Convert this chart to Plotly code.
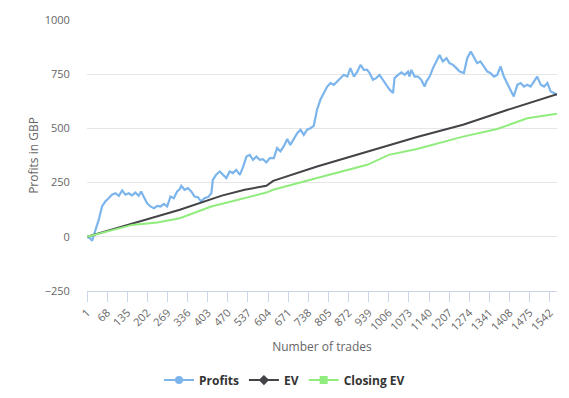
import plotly.graph_objects as go

profit_trades = [1, 10, 18, 29, 40, 51, 62, 73, 84, 96, 107, 118, 129, 140, 151, 162, 173, 181, 190,
                 201, 212, 224, 235, 246, 257, 268, 279, 290, 301, 310, 315, 326, 337, 348, 359, 370,
                 381, 392, 404, 415, 420, 431, 443, 454, 465, 476, 487, 498, 510, 521, 532, 543, 554,
                 565, 576, 587, 598, 610, 623, 634, 645, 656, 668, 678, 690, 701, 712, 723, 734, 745,
                 756, 762, 767, 778, 790, 801, 812, 823, 834, 845, 856, 868, 878, 890, 901, 912, 923,
                 934, 942, 953, 964, 975, 987, 998, 1009, 1020, 1025, 1037, 1048, 1059, 1070, 1075,
                 1081, 1092, 1103, 1114, 1125, 1131, 1142, 1153, 1164, 1175, 1186, 1198, 1208, 1220,
                 1231, 1242, 1256, 1267, 1279, 1289, 1300, 1311, 1322, 1334, 1345, 1356, 1367, 1378,
                 1389, 1400, 1411, 1422, 1434, 1445, 1456, 1467, 1478, 1489, 1500, 1512, 1523, 1534,
                 1545, 1556, 1566]
profit_values = [0, -5, -18, 25, 78, 140, 163, 178, 194, 201, 189, 214, 194, 201, 191, 204, 189, 209, 186,
                 155, 140, 132, 143, 140, 152, 140, 186, 178, 209, 220, 235, 217, 225, 209, 186, 183,
                 163, 178, 183, 201, 263, 286, 301, 286, 271, 301, 294, 309, 286, 324, 370, 378, 355,
                 370, 355, 358, 343, 363, 363, 409, 394, 417, 451, 424, 451, 478, 494, 470, 494, 501,
                 512, 555, 586, 632, 663, 693, 709, 701, 716, 732, 747, 739, 778, 739, 762, 793, 770,
                 770, 755, 724, 732, 747, 724, 701, 678, 663, 732, 747, 758, 747, 762, 739,
                 770, 739, 739, 724, 693, 716, 739, 778, 809, 839, 809, 824, 801, 793,
                 778, 762, 755, 824, 855, 832, 801, 809, 786, 762, 755, 739, 747, 786,
                 739, 709, 678, 647, 701, 709, 693, 701, 693, 716, 739, 701, 693, 709,
                 670, 663, 655]

ev_trades = [1, 150, 310, 450, 526, 598, 621, 767, 934, 1100, 1253, 1400, 1566]
ev_values = [0, 62, 125, 190, 217, 235, 258, 324, 394, 460, 517, 585, 658]

cev_trades = [1, 151, 235, 310, 415, 598, 621, 712, 767, 934, 1006, 1100, 1253, 1367, 1467, 1566]
cev_values = [0, 55, 66, 86, 140, 204, 217, 252, 271, 332, 378, 405, 462, 497, 547, 568]

series_names = ["Profits", "EV", "Closing EV"]
series_colors = ["#7cb5ec", "#434348", "#90ed7d"]
series_symbols = ["circle", "diamond", "square"]

x_tick_values = list(range(1, 1543, 67))
x_tick_labels = [str(v) for v in x_tick_values]
y_tick_values = [-250, 0, 250, 500, 750, 1000]

FONT = "Open Sans, Lucida Grande, Arial, sans-serif"

fig = go.Figure()
data_x = [profit_trades, ev_trades, cev_trades]
data_y = [profit_values, ev_values, cev_values]
for i in range(3):
    fig.add_trace(go.Scatter(x=data_x[i], y=data_y[i], name=series_names[i], mode="lines",
                             line=dict(color=series_colors[i], width=2.2 if i == 0 else 2),
                             showlegend=False, legendgroup=series_names[i]))
# legend entries (line + marker symbol, as in the reference)
for i in range(3):
    fig.add_trace(go.Scatter(x=[None], y=[None], name="<b>" + series_names[i] + "</b>",
                             mode="lines+markers", legendgroup=series_names[i],
                             line=dict(color=series_colors[i], width=2),
                             marker=dict(color=series_colors[i], symbol=series_symbols[i], size=8)))

fig.update_layout(
    width=569, height=398,
    margin=dict(l=87, r=12, t=20, b=107, autoexpand=False),
    paper_bgcolor="white", plot_bgcolor="white",
    font=dict(family=FONT, size=11, color="#666666"),
    showlegend=True,
    legend=dict(orientation="h", xref="container", x=0.5, xanchor="center",
                yref="container", y=0.045, yanchor="middle",
                font=dict(size=12, color="#333333", family=FONT),
                itemwidth=30, tracegroupgap=0),
    xaxis=dict(range=[1, 1566], tickmode="array", tickvals=x_tick_values, ticktext=x_tick_labels,
               tickangle=-45, showgrid=False, zeroline=False, showline=True, automargin=False,
               linecolor="#ccd6eb", linewidth=1, ticks="outside", ticklen=10, tickcolor="#ccd6eb",
               tickfont=dict(size=11, color="#666666"),
               title=dict(text="Number of trades", font=dict(size=12, color="#666666"), standoff=10)),
    yaxis=dict(range=[-250, 1000], tickmode="array", tickvals=y_tick_values, automargin=False,
               showgrid=True, gridcolor="#e6e6e6", gridwidth=1, zeroline=False, showline=False,
               ticks="outside", ticklen=14, tickcolor="rgba(0,0,0,0)",
               tickfont=dict(size=11, color="#666666"),
               title=dict(text="Profits in GBP", font=dict(size=12, color="#666666"), standoff=3)),
)

fig.write_html("out.html", config={"displayModeBar": False},
               post_script="document.body.style.margin='0';")
